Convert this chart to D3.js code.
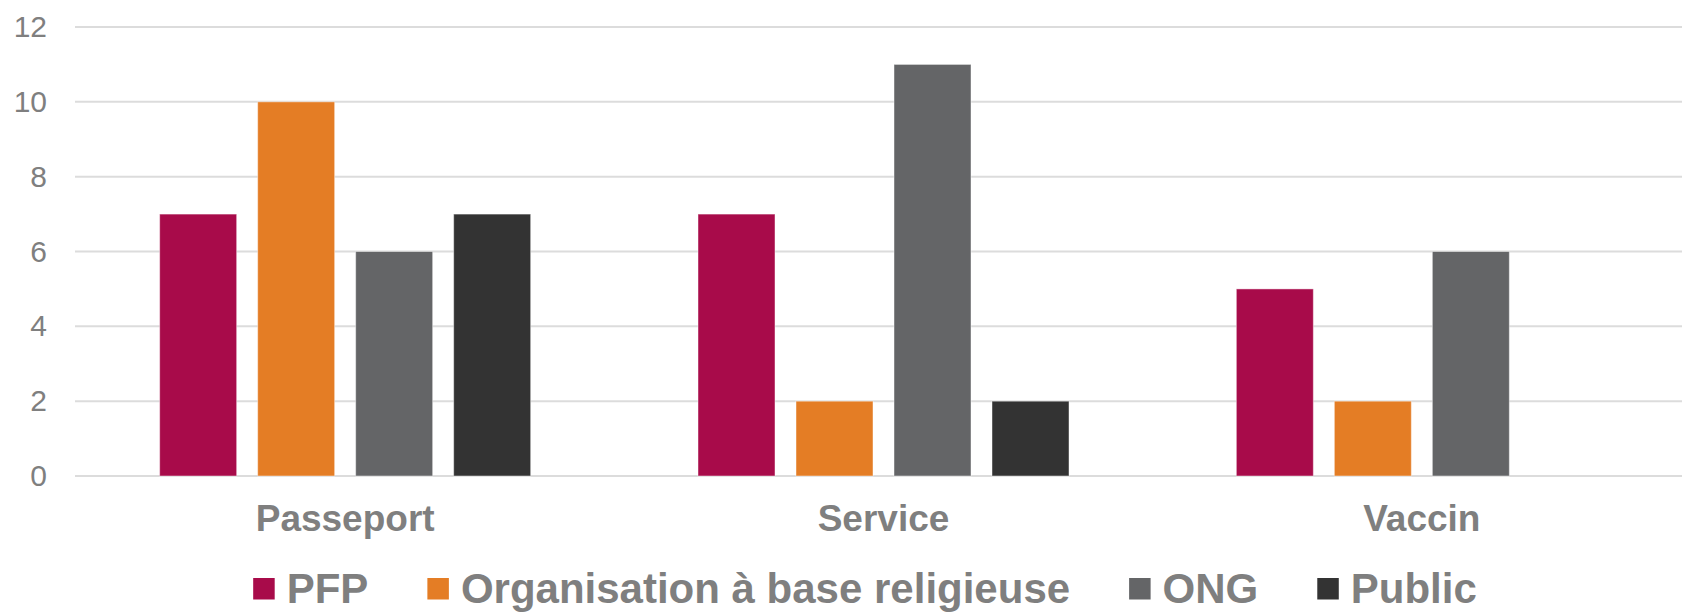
<!DOCTYPE html>
<html>
<head>
<meta charset="utf-8">
<script src="https://cdn.jsdelivr.net/npm/d3@7"></script>
<style>
  body { margin: 0; background: #fff; }
  text { font-family: "Liberation Sans", Arial, sans-serif; }
</style>
</head>
<body>
<div id="chart"></div>
<script>
var width = 1682;
var height = 612;

// data
var categories = ["Passeport", "Service", "Vaccin"];
var series = ["PFP", "Organisation à base religieuse", "ONG", "Public"];
var pfpValues = [7, 7, 5];
var religiousValues = [10, 2, 2];
var ongValues = [6, 11, 6];
var publicValues = [7, 2, 0];
var colors = ["#a80b4a", "#e47d25", "#646567", "#333333"];
var yTicks = [0, 2, 4, 6, 8, 10, 12];

var valuesBySeries = [pfpValues, religiousValues, ongValues, publicValues];

var svg = d3.select("#chart").append("svg")
    .attr("width", width)
    .attr("height", height);

// plot area
var plot = { left: 76, right: 1691, top: 27, bottom: 476 };

var x0 = d3.scaleBand().domain(categories).range([plot.left, plot.right]);
var groupWidth = 371;
var x1 = d3.scaleBand().domain(series).range([0, groupWidth]).paddingInner(21 / 98);
var y = d3.scaleLinear().domain([0, 12]).range([plot.bottom, plot.top]);

// gridlines
svg.append("g")
    .selectAll("line")
    .data(yTicks)
    .enter()
    .append("line")
    .attr("x1", plot.left - 1)
    .attr("x2", width)
    .attr("y1", function (d) { return y(d); })
    .attr("y2", function (d) { return y(d); })
    .attr("stroke", "#dcdcdc")
    .attr("stroke-width", 2);

// y axis labels
var yAxis = d3.axisLeft(y).tickValues(yTicks).tickSize(0).tickPadding(0);
var yAxisGroup = svg.append("g")
    .attr("transform", "translate(47,0)")
    .call(yAxis);
yAxisGroup.select(".domain").remove();
yAxisGroup.selectAll("text")
    .attr("fill", "#7f7f7f")
    .style("font-size", "30px")
    .style("font-family", "'Liberation Sans', Arial, sans-serif");

// bars
var rows = [];
categories.forEach(function (c, ci) {
    series.forEach(function (s, si) {
        rows.push({ cat: c, series: s, value: valuesBySeries[si][ci], color: colors[si] });
    });
});

svg.append("g")
    .selectAll("rect")
    .data(rows.filter(function (d) { return d.value > 0; }))
    .enter()
    .append("rect")
    .attr("x", function (d) { return x0(d.cat) + (x0.bandwidth() - groupWidth) / 2 + x1(d.series); })
    .attr("width", x1.bandwidth())
    .attr("y", function (d) { return y(d.value); })
    .attr("height", function (d) { return y(0) - y(d.value); })
    .attr("fill", function (d) { return d.color; })
    .attr("stroke", "rgba(255,255,255,0.45)")
    .attr("stroke-width", 1);

// category labels
svg.append("g")
    .selectAll("text")
    .data(categories)
    .enter()
    .append("text")
    .attr("x", function (d) { return x0(d) + x0.bandwidth() / 2; })
    .attr("y", 531)
    .attr("text-anchor", "middle")
    .attr("fill", "#7f7f7f")
    .style("font-size", "37px")
    .style("font-weight", "bold")
    .text(function (d) { return d; });

// legend
var legend = svg.append("g");
var swatch = 21.5, textGap = 12, itemGap = 59;
var items = legend.selectAll("g")
    .data(series)
    .enter()
    .append("g");
items.append("rect")
    .attr("width", swatch)
    .attr("height", swatch)
    .attr("y", 578)
    .attr("fill", function (d, i) { return colors[i]; });
items.append("text")
    .attr("x", swatch + textGap)
    .attr("y", 603)
    .attr("fill", "#7f7f7f")
    .style("font-size", "42px")
    .style("font-weight", "bold")
    .text(function (d) { return d; });

var offsets = [];
var cursor = 0;
items.each(function () {
    offsets.push(cursor);
    var w = d3.select(this).select("text").node().getComputedTextLength();
    cursor += swatch + textGap + w + itemGap;
});
var total = cursor - itemGap;
var legendStart = 865 - total / 2;
items.attr("transform", function (d, i) { return "translate(" + (legendStart + offsets[i]) + ",0)"; });
</script>
</body>
</html>
